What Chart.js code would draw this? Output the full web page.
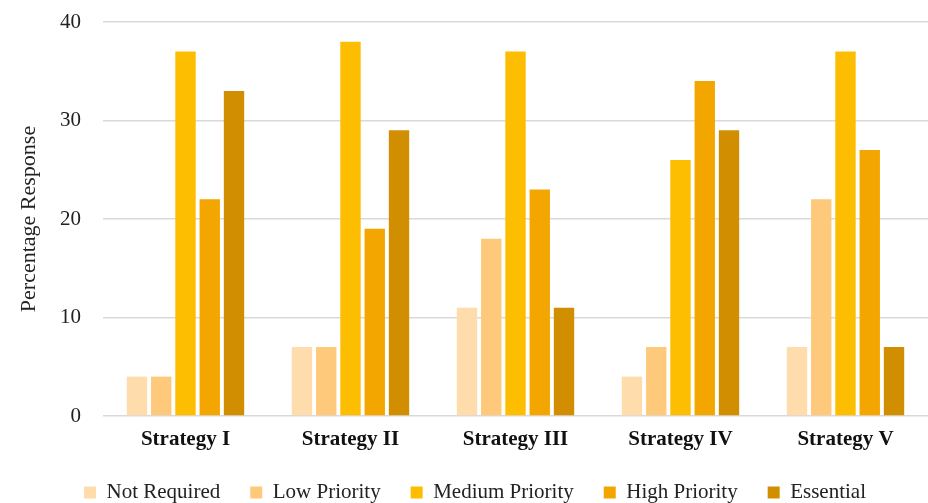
<!DOCTYPE html>
<html>
<head>
<meta charset="utf-8">
<script src="https://cdn.jsdelivr.net/npm/chart.js@4"></script>
<style>
  html, body { margin: 0; padding: 0; background: #fff; }
  #wrap { width: 928px; height: 503px; }
</style>
</head>
<body>
<div id="wrap"><canvas id="chart" width="928" height="503"></canvas></div>
<script>
const categories = ['Strategy I', 'Strategy II', 'Strategy III', 'Strategy IV', 'Strategy V'];
const notRequired = [4, 7, 11, 4, 7];
const lowPriority = [4, 7, 18, 7, 22];
const mediumPriority = [37, 38, 37, 26, 37];
const highPriority = [22, 19, 23, 34, 27];
const essential = [33, 29, 11, 29, 7];
const yTicks = [0, 10, 20, 30, 40];

const serif = "'Liberation Serif', 'DejaVu Serif', serif";

const makeSet = (label, data, color) => ({
    label: label,
    data: data,
    backgroundColor: color,
    borderWidth: 0,
    categoryPercentage: 0.735,
    barPercentage: 0.84
});

var ctx = document.getElementById('chart').getContext('2d');
var myChart = new Chart(ctx, {
    type: 'bar',
    data: {
        labels: categories,
        datasets: [
            makeSet('Not Required', notRequired, '#fedcac'),
            makeSet('Low Priority', lowPriority, '#fec97a'),
            makeSet('Medium Priority', mediumPriority, '#fdbd00'),
            makeSet('High Priority', highPriority, '#f3a600'),
            makeSet('Essential', essential, '#d08e00')
        ]
    },
    options: {
        responsive: false,
        animation: false,
        layout: { padding: { left: 16, right: -6, top: 22, bottom: -10 } },
        plugins: {
            legend: {
                position: 'bottom',
                labels: {
                    boxWidth: 12,
                    boxHeight: 12,
                    padding: 30,
                    color: '#222',
                    font: { family: serif, size: 21 }
                }
            },
            tooltip: { enabled: false }
        },
        scales: {
            x: {
                grid: { display: false },
                border: { display: false },
                afterFit: (axis) => { axis.height = 36; },
                ticks: {
                    color: '#111',
                    padding: 3,
                    font: { family: serif, size: 21, weight: 'bold' }
                }
            },
            y: {
                min: 0,
                max: 40,
                afterBuildTicks: (axis) => { axis.ticks = yTicks.map(v => ({ value: v })); },
                afterFit: (axis) => {
                    axis.width = 87;
                    axis.paddingTop = 0;
                    axis.paddingBottom = 0;
                },
                grid: { color: '#d9d9d9', lineWidth: 1.5, drawTicks: false },
                border: { display: false },
                ticks: {
                    color: '#222',
                    padding: 22,
                    font: { family: serif, size: 21 }
                },
                title: {
                    display: true,
                    text: 'Percentage Response',
                    color: '#222',
                    padding: { top: 0, bottom: 16 },
                    font: { family: serif, size: 22 }
                }
            }
        }
    }
});
</script>
</body>
</html>
